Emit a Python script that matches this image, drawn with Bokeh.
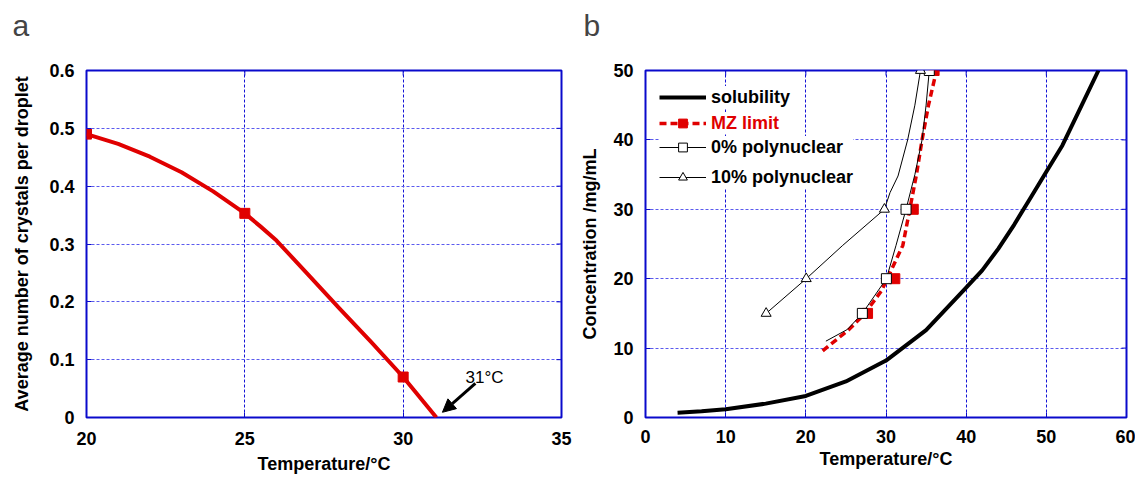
import math
from bokeh.plotting import figure
from bokeh.layouts import row
from bokeh.models import (Range1d, FixedTicker, LinearAxis, Legend, LegendItem,
                          Arrow, NormalHead, Label)
from bokeh.embed import file_html
from bokeh.resources import INLINE

# ---------------- data: panel a ----------------
a_temp_curve = [20, 21, 22, 23, 24, 25, 25.5, 26, 27, 28, 29, 30, 31.05]
a_count_curve = [0.49, 0.473, 0.451, 0.424, 0.391, 0.353, 0.330, 0.306, 0.247, 0.188, 0.130, 0.07, 0.0]
a_temp_pts = [20, 25, 30]
a_count_pts = [0.49, 0.353, 0.07]
a_xticks = [20, 25, 30, 35]
a_yticks = [0, 0.1, 0.2, 0.3, 0.4, 0.5, 0.6]
a_note = "31°C"
a_arrow_from = (32.28, 0.0588)
a_arrow_to = (31.24, 0.009)
a_note_at = (31.97, 0.069)

# ---------------- data: panel b ----------------
sol_temp = [4, 7, 10, 15, 20, 25, 30, 35, 40, 42, 44, 46, 48, 50, 52, 54, 56.5]
sol_conc = [0.7, 0.9, 1.2, 2.0, 3.1, 5.2, 8.2, 12.6, 18.7, 21.2, 24.3, 27.8, 31.6, 35.4, 39.2, 44.0, 50.0]

mz_temp_curve = [22.1, 25.4, 27.3, 29.4, 30.2, 32.1, 32.9, 33.8, 34.5, 35.3, 36.3]
mz_conc_curve = [9.6, 12.7, 14.9, 18.2, 20.1, 24.8, 29.6, 35.0, 40.0, 45.0, 50.0]
mz_temp_pts = [27.7, 31.1, 33.4, 36.0]
mz_conc_pts = [15, 20, 30, 50]

p0_temp_curve = [22.5, 25.2, 27.05, 28.55, 30.05, 31.25, 32.5, 33.6, 34.5, 35.0, 35.4]
p0_conc_curve = [11.0, 12.7, 15.0, 17.5, 20.0, 24.8, 30.0, 35.0, 40.0, 45.0, 50.0]
p0_temp_pts = [27.05, 30.05, 32.5, 35.4]
p0_conc_pts = [15, 20, 30, 50]

p10_temp_curve = [15.05, 20.05, 24.6, 29.8, 30.5, 31.5, 32.7, 33.6, 34.3]
p10_conc_curve = [15.0, 20.0, 24.8, 30.0, 32.4, 34.8, 40.0, 45.0, 50.0]
p10_temp_pts = [15.05, 20.05, 29.8, 34.3]
p10_conc_pts = [15, 20, 30, 50]

b_xticks = [0, 10, 20, 30, 40, 50, 60]
b_yticks = [0, 10, 20, 30, 40, 50]

# ---------------- style ----------------
FONT = "Liberation Sans"
BLUE = "#0a0acc"
XGRID = "#1414d6"
YGRID = "#5a5aee"
RED = "#e00000"


def style(p, xticks, yticks, xlabel, ylabel, ytitle_standoff, xtick_standoff, xtitle_standoff):
    p.outline_line_color = BLUE
    p.outline_line_width = 2
    p.xaxis.ticker = FixedTicker(ticks=xticks)
    p.yaxis.ticker = FixedTicker(ticks=yticks)
    p.xgrid.grid_line_color = XGRID
    p.xgrid.grid_line_dash = "3 2"
    p.ygrid.grid_line_color = YGRID
    p.ygrid.grid_line_dash = "3 2"
    for ax in (p.xaxis[0], p.yaxis[0]):
        ax.axis_line_color = None
        ax.major_tick_in = 5
        ax.major_tick_out = 0
        ax.major_tick_line_color = BLUE
        ax.minor_tick_line_color = None
        ax.major_label_text_font = FONT
        ax.major_label_text_font_style = "bold"
        ax.major_label_text_font_size = "18px"
        ax.major_label_text_color = "black"
        ax.axis_label_text_font = FONT
        ax.axis_label_text_font_style = "bold"
        ax.axis_label_text_font_size = "18px"
        ax.axis_label_text_color = "black"
    p.xaxis[0].axis_label = xlabel
    p.yaxis[0].axis_label = ylabel
    p.xaxis[0].major_label_standoff = xtick_standoff
    p.xaxis[0].axis_label_standoff = xtitle_standoff
    p.yaxis[0].major_label_standoff = 12
    p.yaxis[0].axis_label_standoff = ytitle_standoff
    # mirrored inward ticks on the top and right frame edges (half clipped by the frame)
    xmax = p.x_range.end
    ymax = p.y_range.end
    p.scatter(xticks, [ymax] * len(xticks), marker="dash", angle=math.pi / 2, size=10,
              line_color=BLUE, line_width=1)
    p.scatter([xmax] * len(yticks), yticks, marker="dash", angle=0, size=10,
              line_color=BLUE, line_width=1)


def panel_letter(p, text, offset, xticks):
    # invisible spacer panel between the frame and the title, so the letter sits higher
    spacer = LinearAxis(ticker=FixedTicker(ticks=xticks), axis_line_color=None,
                        major_tick_line_color=None, minor_tick_line_color=None,
                        major_tick_in=0, major_tick_out=29, minor_tick_out=0,
                        major_label_standoff=0, major_label_text_color=None)
    p.add_layout(spacer, "above")
    p.title.text = text
    p.title.text_font = FONT
    p.title.text_font_style = "normal"
    p.title.text_font_size = "30px"
    p.title.align = "left"
    p.title.offset = offset
    p.title.standoff = 0


# ---------------- panel a ----------------
pa = figure(width=577, height=478, output_backend="svg", toolbar_location=None,
            x_range=Range1d(20, 35), y_range=Range1d(0, 0.6),
            min_border_left=86, min_border_right=16, min_border_top=70, min_border_bottom=61)
style(pa, a_xticks, a_yticks, "Temperature/°C", "Average number of crystals per droplet", 14, 14, 6)
pa.yaxis[0].major_label_overrides = {0: "0"}
panel_letter(pa, "a", -74, a_xticks)
pa.line(a_temp_curve, a_count_curve, line_color=RED, line_width=4, line_join="round")
pa.scatter(a_temp_pts, a_count_pts, marker="square", size=10, fill_color=RED, line_color=RED)
pa.add_layout(Arrow(end=NormalHead(size=13, fill_color="black", line_color="black"),
                    x_start=a_arrow_from[0], y_start=a_arrow_from[1],
                    x_end=a_arrow_to[0], y_end=a_arrow_to[1],
                    line_color="black", line_width=3))
pa.add_layout(Label(x=a_note_at[0], y=a_note_at[1], text=a_note, text_font=FONT,
                    text_font_size="17px", text_color="black", text_baseline="alphabetic"))

# ---------------- panel b ----------------
pb = figure(width=558, height=478, output_backend="svg", toolbar_location=None,
            x_range=Range1d(0, 60), y_range=Range1d(0, 50),
            min_border_left=67, min_border_right=9, min_border_top=70, min_border_bottom=57)
style(pb, b_xticks, b_yticks, "Temperature/°C", "Concentration /mg/mL", 10, 12, 3)
panel_letter(pb, "b", -62, b_xticks)

sol = pb.line(sol_temp, sol_conc, line_color="black", line_width=4, line_join="round")
mz_line = pb.line(mz_temp_curve, mz_conc_curve, line_color=RED, line_width=3.5, line_dash="7 4")
mz_pts = pb.scatter(mz_temp_pts, mz_conc_pts, marker="square", size=10, fill_color=RED, line_color=RED)
p0_line = pb.line(p0_temp_curve, p0_conc_curve, line_color="black", line_width=1)
p0_pts = pb.scatter(p0_temp_pts, p0_conc_pts, marker="square", size=10, fill_color="white",
                    line_color="black", line_width=1)
p10_line = pb.line(p10_temp_curve, p10_conc_curve, line_color="black", line_width=1)
p10_pts = pb.scatter(p10_temp_pts, p10_conc_pts, marker="triangle", size=10, fill_color="white",
                     line_color="black", line_width=1)

common = dict(label_height=22, glyph_height=22, glyph_width=47, label_standoff=5,
              border_line_color=None, background_fill_color="white", background_fill_alpha=1.0,
              label_text_font=FONT, label_text_font_style="bold", label_text_font_size="18px",
              margin=0, padding=0)
leg1 = Legend(items=[LegendItem(label="solubility", renderers=[sol])],
              location=(14, 309), spacing=0, label_text_color="black", **common)
leg2 = Legend(items=[LegendItem(label="MZ limit", renderers=[mz_line, mz_pts])],
              location=(14, 283), spacing=0, label_text_color=RED, **common)
leg3 = Legend(items=[LegendItem(label="0% polynuclear", renderers=[p0_line, p0_pts]),
                     LegendItem(label="10% polynuclear", renderers=[p10_line, p10_pts])],
              location=(14, 229), spacing=8, label_text_color="black", **common)
for lg in (leg1, leg2, leg3):
    pb.add_layout(lg)

layout = row(pa, pb)
open("out.html", "w").write(file_html(layout, INLINE))
